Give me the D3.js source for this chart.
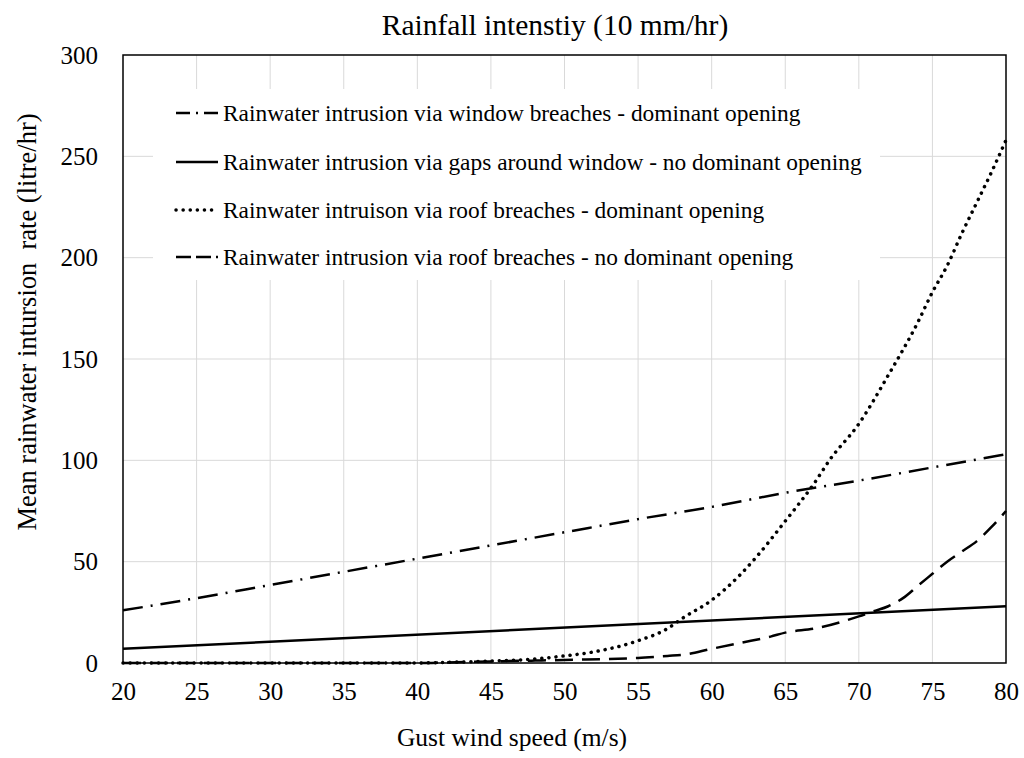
<!DOCTYPE html>
<html><head><meta charset="utf-8">
<script src="https://cdn.jsdelivr.net/npm/d3@7"></script>
<style>body{margin:0;background:#fff;} svg{display:block;}</style>
</head><body>
<svg id="chart" width="1024" height="758"></svg>
<script>
const title = "Rainfall intenstiy (10 mm/hr)";
const xTitle = "Gust wind speed (m/s)";
const yTitle = "Mean rainwater intursion\u00a0 rate (litre/hr)";
const xTicks = [20,25,30,35,40,45,50,55,60,65,70,75,80];
const yTicks = [0,50,100,150,200,250,300];

const windowDomX = [20,25,30,35,40,45,50,55,60,65,70,75,80];
const windowDomY = [26,32,38.5,45,51.5,58,64.5,71,77,84,90,96.5,103];

const gapsX = [20,80];
const gapsY = [7,28];

const roofDomX = [20,30,40,42,45,47,50,52,55,57,58,60,62,63,65,67,68,70,72,74,75,76,77,78,79,80];
const roofDomY = [0,0,0,0.3,1,1.5,3.5,5.5,11,17,22,31,44,52,70,89,100,118,142,168,183,196,212,227,242,258];

const roofNoX = [20,30,40,42,45,48,50,55,57,58,60,62,64,65,67,70,71,72,73,74,75,76,77,78,79,80];
const roofNoY = [0,0,0,0.3,0.8,1.2,1.5,2.5,3.5,4,7,10,13,15,17,23,25.5,28,32,38,44,50,55,60,67,75];

const legendLabels = [
  "Rainwater intrusion via window breaches - dominant opening",
  "Rainwater intrusion via gaps around window - no dominant opening",
  "Rainwater intruison via roof breaches - dominant opening",
  "Rainwater intrusion via roof breaches - no dominant opening"
];

const styles = [
  {dash:"20,8,2,8", cap:"butt", w:2.5},
  {dash:null, cap:"butt", w:2.5},
  {dash:"0.1,7", cap:"round", w:3.5},
  {dash:"18,9", cap:"butt", w:2.5}
];
const seriesData = [
  windowDomX.map((x,i)=>[x,windowDomY[i]]),
  gapsX.map((x,i)=>[x,gapsY[i]]),
  roofDomX.map((x,i)=>[x,roofDomY[i]]),
  roofNoX.map((x,i)=>[x,roofNoY[i]])
];

const L=123, R=1006, T=55, B=663;
const svg = d3.select("#chart");
const font = "'Liberation Serif','Times New Roman',serif";
const x = d3.scaleLinear().domain([20,80]).range([L,R]);
const y = d3.scaleLinear().domain([0,300]).range([B,T]);

// gridlines
svg.append("g").selectAll("line").data(xTicks.slice(1,-1)).join("line")
  .attr("x1",d=>x(d)).attr("x2",d=>x(d)).attr("y1",T).attr("y2",B)
  .attr("stroke","#d9d9d9").attr("stroke-width",1);
svg.append("g").selectAll("line").data(yTicks.slice(1,-1)).join("line")
  .attr("x1",L).attr("x2",R).attr("y1",d=>y(d)).attr("y2",d=>y(d))
  .attr("stroke","#d9d9d9").attr("stroke-width",1);

// axes with labels only
const xAxis = svg.append("g").attr("transform",`translate(0,${B})`)
  .call(d3.axisBottom(x).tickValues(xTicks).tickSize(0).tickPadding(19));
xAxis.select(".domain").remove();
xAxis.selectAll("text").attr("font-family",font).attr("font-size",25).attr("fill","#000");
const yAxis = svg.append("g").attr("transform",`translate(${L},0)`)
  .call(d3.axisLeft(y).tickValues(yTicks).tickSize(0).tickPadding(25));
yAxis.select(".domain").remove();
yAxis.selectAll("text").attr("font-family",font).attr("font-size",25).attr("fill","#000");

// legend background
svg.append("rect").attr("x",153).attr("y",89).attr("width",727).attr("height",191).attr("fill","#fff");

// lines
const line = d3.line().x(d=>x(d[0])).y(d=>y(d[1])).curve(d3.curveMonotoneX);
seriesData.forEach((data,i)=>{
  const s = styles[i];
  svg.append("path").datum(data).attr("d",line)
    .attr("fill","none").attr("stroke","#000")
    .attr("stroke-width",s.w).attr("stroke-linecap",s.cap)
    .attr("stroke-dasharray",s.dash);
});

// frame
svg.append("rect").attr("x",L).attr("y",T).attr("width",R-L).attr("height",B-T)
  .attr("fill","none").attr("stroke","#000").attr("stroke-width",1.5);

// legend
const rowsY = [113,162,210,257];
legendLabels.forEach((lab,i)=>{
  const s = styles[i];
  svg.append("line").attr("x1",176).attr("x2",218).attr("y1",rowsY[i]).attr("y2",rowsY[i])
    .attr("stroke","#000").attr("stroke-width",s.w).attr("stroke-linecap",s.cap)
    .attr("stroke-dasharray", i===0 ? "14,6,2,6" : (i===3 ? "15,5" : s.dash));
  svg.append("text").attr("x",223).attr("y",rowsY[i]).attr("dy","0.35em")
    .attr("font-family",font).attr("font-size",23.4).attr("fill","#000").text(lab);
});

// titles
svg.append("text").attr("x",555).attr("y",25).attr("dy","0.35em").attr("text-anchor","middle")
  .attr("font-family",font).attr("font-size",29.5).text(title);
svg.append("text").attr("x",512).attr("y",737).attr("dy","0.35em").attr("text-anchor","middle")
  .attr("font-family",font).attr("font-size",25.5).text(xTitle);
svg.append("text").attr("transform","translate(27,322) rotate(-90)").attr("dy","0.35em")
  .attr("text-anchor","middle").attr("font-family",font).attr("font-size",26.5).text(yTitle);
</script>
</body></html>
